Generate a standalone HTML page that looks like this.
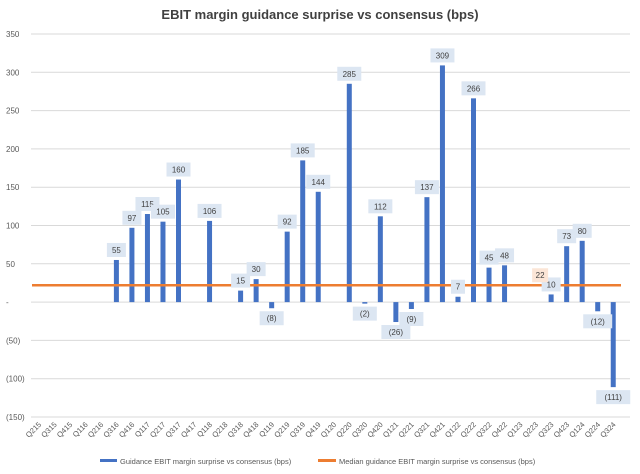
<!DOCTYPE html>
<html><head><meta charset="utf-8"><style>
body{margin:0;background:#fff;font-family:"Liberation Sans",sans-serif;}
svg text{font-family:"Liberation Sans",sans-serif;}
</style></head><body>
<svg id="c" width="640" height="469">
<rect width="640" height="469" fill="#fff"/>
<text x="320" y="19" text-anchor="middle" font-size="13" font-weight="bold" fill="#404040">EBIT margin guidance surprise vs consensus (bps)</text>
<g id="grid"></g><g id="bars"></g><g id="lbls"></g><g id="xl"></g>
<g>
<rect x="100" y="459" width="17" height="3" fill="#4472c4"/>
<text x="120" y="464" font-size="7.5" fill="#595959">Guidance EBIT margin surprise vs consensus (bps)</text>
<rect x="318" y="459" width="18" height="3" fill="#ed7d31"/>
<text x="339" y="464" font-size="7.5" fill="#595959">Median guidance EBIT margin surprise vs consensus (bps)</text>
</g>
</svg>
<script>
const categories=["Q215","Q315","Q415","Q116","Q216","Q316","Q416","Q117","Q217","Q317","Q417","Q118","Q218","Q318","Q418","Q119","Q219","Q319","Q419","Q120","Q220","Q320","Q420","Q121","Q221","Q321","Q421","Q122","Q222","Q322","Q422","Q123","Q223","Q323","Q423","Q124","Q224","Q324"];
const values=[null,null,null,null,null,55,97,115,105,160,null,106,null,15,30,-8,92,185,144,null,285,-2,112,-26,-9,137,309,7,266,45,48,null,null,10,73,80,-12,-111];
const median=22;
const medianLabelIndex=33;
const yTicks=[350,300,250,200,150,100,50,0,-50,-100,-150];
const NS="http://www.w3.org/2000/svg";
const x0=31,x1=621,yTop=34,yBot=417,yMax=350,yMin=-150;
const bw=(x1-x0)/categories.length;
const X=i=>x0+bw*(i+0.5);
const Y=v=>yTop+(yMax-v)/(yMax-yMin)*(yBot-yTop);
function mk(t,a,p){const e=document.createElementNS(NS,t);for(const k in a)e.setAttribute(k,a[k]);p.appendChild(e);return e;}
const fmt=v=>v===0?"-":(v<0?"("+(-v)+")":String(v));
const g=document.getElementById('grid');
yTicks.forEach(v=>{
 const l=mk('line',{x1:x0,x2:630,y1:Y(v),y2:Y(v),stroke:'#d9d9d9','stroke-width':1},g);
 
 
 const t=mk('text',{x:6,y:Y(v)+3,'font-size':8,fill:'#595959'},g);t.textContent=fmt(v);
 
 
});
const b=document.getElementById('bars'),lb=document.getElementById('lbls'),xl=document.getElementById('xl');
categories.forEach((c,i)=>{
 const t=mk('text',{'font-size':7.5,fill:'#595959','text-anchor':'end',transform:`translate(${X(i)+3},${yBot+8}) rotate(-45)`},xl);
 t.textContent=c;
 
 
 const v=values[i];if(v===null)return;
 const y=Y(Math.max(v,0)),h=Math.abs(Y(v)-Y(0));
 const r=mk('rect',{x:X(i)-2.5,y:y,width:5,height:Math.max(h,0.5),fill:'#4472c4'},b);
 
 
 const s=fmt(v),w=s.length*5+9;
 const ly=v>=0?Y(v)-10:Y(v)+10;
 const bg=mk('rect',{x:X(i)-w/2,y:ly-7,width:w,height:14,fill:'#dce6f2'},lb);
 
 
 const tt=mk('text',{x:X(i),y:ly+3,'font-size':8,'text-anchor':'middle',fill:'#404040'},lb);
 tt.textContent=s;
 
 
});
const ml=mk('line',{x1:x0+1,x2:x1,y1:Y(median),y2:Y(median),stroke:'#ed7d31','stroke-width':2.5},b);


const mx=X(medianLabelIndex)-11,my=Y(median)-10;
const mb=mk('rect',{x:mx-8,y:my-7,width:16,height:14,fill:'#fbe5d6'},lb);


const mt=mk('text',{x:mx,y:my+3,'font-size':8,'text-anchor':'middle',fill:'#404040'},lb);
mt.textContent=String(median);


</script>
</body></html>
